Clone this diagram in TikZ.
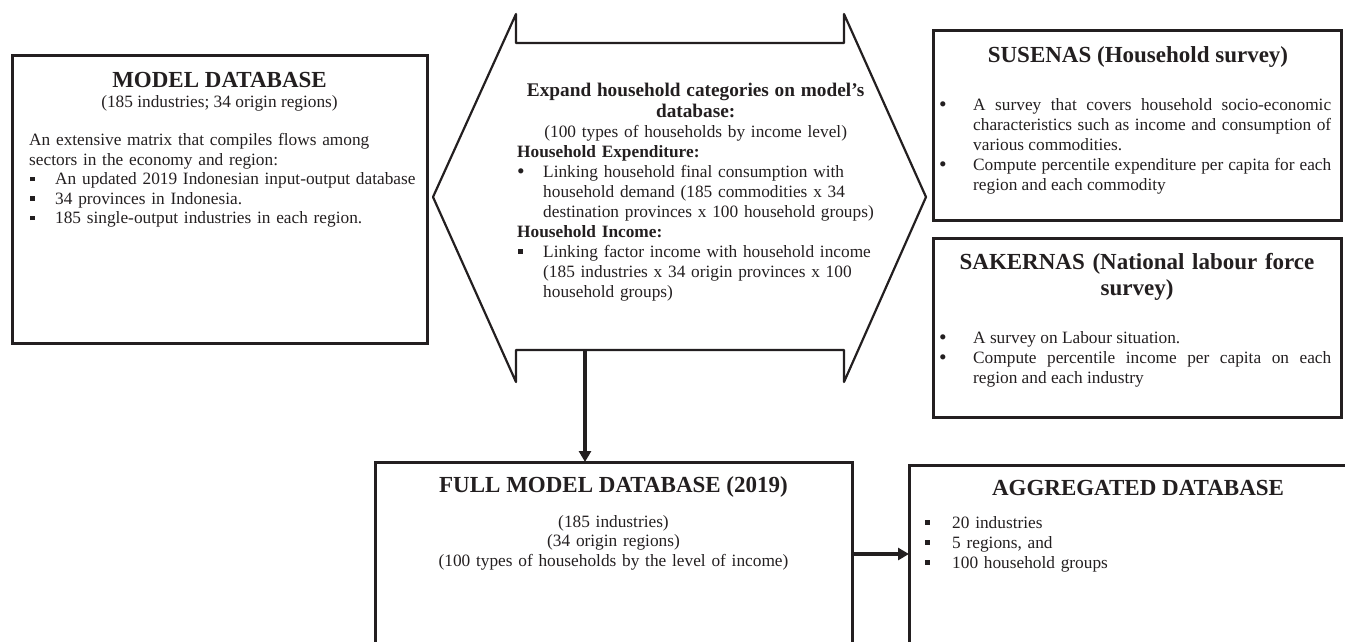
\documentclass[tikz,border=0pt]{standalone}
\usepackage{fontspec}
\setmainfont{Liberation Serif}
\usetikzlibrary{positioning,arrows.meta}
\definecolor{ink}{HTML}{231F20}
\tolerance=9999 \hyphenpenalty=10000
\newcommand{\bodyfont}{\fontsize{17.3}{20}\selectfont}
\newcommand{\headfont}{\fontsize{23}{26.5}\selectfont\bfseries}
\newcommand{\sqbul}{\hspace*{1pt}\rule[3.5pt]{4.5pt}{4.5pt}}
\newcommand{\rdbul}{\raisebox{-1.8pt}{\scalebox{1.25}{\textbullet}}}
\newcommand{\bitem}[3]{\noindent\hangindent=#1\hangafter=1\makebox[#1][l]{#2}#3\par}
\tikzset{
  box/.style={draw=ink,line width=3pt,outer sep=0pt,inner sep=0pt,anchor=north west},
  head/.style={text=ink,font=\headfont,inner sep=0pt,anchor=base,align=center},
  txt/.style={text=ink,font=\bodyfont,inner sep=0pt,anchor=base west,align=left},
  link/.style={draw=ink,line width=4pt,-{Triangle[length=11pt,width=12pt]}}
}
\begin{document}
\begin{tikzpicture}[x=1pt,y=-1pt]
\useasboundingbox (0,0) rectangle (1345,641);
\clip (0,0) rectangle (1345,641);
% expansion step
\draw[ink,line width=2.2pt,line join=round] (516,14)--(516,43)--(844,43)--(844,14)--(926,197)--(844,382)--(844,350)--(516,350)--(516,382)--(433,197)--cycle;
\coordinate (hexb) at (585,350);
\node[txt,text width=357pt] (hext) at (517,96) {{\centering\fontsize{19.3}{21}\selectfont\bfseries Expand household categories on model’s\\database:\par}{\centering (100 types of households by income level)\par}\textbf{Household Expenditure:}\par\bitem{26pt}{\rdbul}{Linking household final consumption with\newline household demand (185 commodities x 34\newline destination provinces x 100 household groups)}\textbf{Household Income:}\par\bitem{26pt}{\sqbul}{Linking factor income with household income\newline (185 industries x 34 origin provinces x 100\newline household groups)}};
% model database
\node[box,minimum width=415pt,minimum height=288pt] (mdb) at (12,55) {};
\node[head] (mdbh) at (219.5,87) {MODEL DATABASE};
\node[txt,anchor=base] (mdbs) at (219.5,107.5) {(185 industries; 34 origin regions)};
\node[txt,text width=390pt,font=\fontsize{17.3}{19.5}\selectfont] (mdbt) at (29,145.5) {An extensive matrix that compiles flows among\\sectors in the economy and region:\par\bitem{26pt}{\sqbul}{An updated 2019 Indonesian input-output database}\bitem{26pt}{\sqbul}{34 provinces in Indonesia.}\bitem{26pt}{\sqbul}{185 single-output industries in each region.}};
% surveys
\node[box,minimum width=408pt,minimum height=190pt] (sus) at (933,30) {};
\node[head] (sush) at (1138,62.5) {SUSENAS (Household survey)};
\node[txt,text width=392pt,align=justify] (sust) at (939,110) {\bitem{34pt}{\rdbul}{A survey that covers household socio-economic\linebreak characteristics such as income and consumption of\linebreak various commodities.}\bitem{34pt}{\rdbul}{Compute percentile expenditure per capita for each\linebreak region and each commodity}};
\node[box,minimum width=408pt,minimum height=179pt] (sak) at (933,238) {};
\node[head,text width=395pt] (sakh) at (1137,269) {SAKERNAS (National labour force\\survey)};
\node[txt,text width=392pt,align=justify] (sakt) at (939,343) {\bitem{34pt}{\rdbul}{A survey on Labour situation.}\bitem{34pt}{\rdbul}{Compute percentile income per capita on each\linebreak region and each industry}};
% full and aggregated
\node[box,minimum width=477pt,minimum height=184pt] (full) at (375,462) {};
\node[head] (fullh) at (613.5,492.5) {FULL MODEL DATABASE (2019)};
\node[txt,anchor=base,text width=470pt,align=center,font=\fontsize{17.3}{19.5}\selectfont] (fullt) at (613.5,527) {(185 industries)\\(34 origin regions)\\(100 types of households by the level of income)};
\node[box,minimum width=460pt,minimum height=180pt] (agg) at (909,465) {};
\node[head] (aggh) at (1138,495.5) {AGGREGATED DATABASE};
\node[txt,text width=400pt] (aggt) at (924,528) {\bitem{28pt}{\sqbul}{20 industries}\bitem{28pt}{\sqbul}{5 regions, and}\bitem{28pt}{\sqbul}{100 household groups}};
\draw[link] (hexb) -- (hexb |- full.north);
\draw[link] (full.east) -- (full.east -| agg.west);
\end{tikzpicture}
\end{document}
